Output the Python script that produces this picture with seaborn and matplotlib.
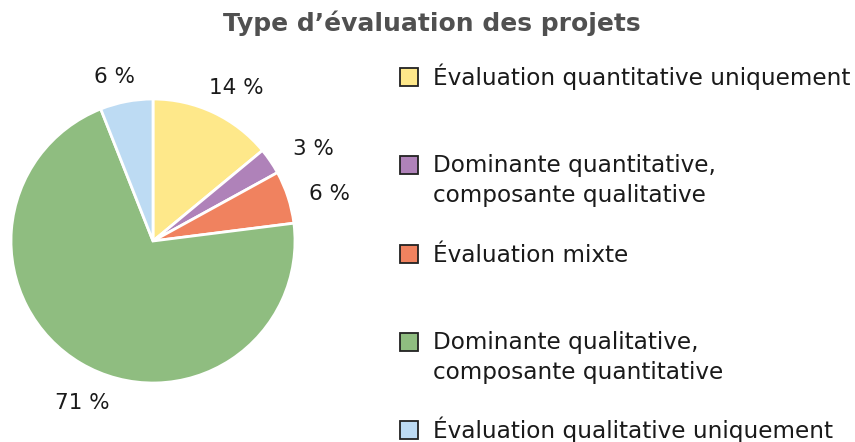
import numpy as np
import matplotlib
matplotlib.use("Agg")
import matplotlib.pyplot as plt
from matplotlib.patches import Rectangle
import seaborn as sns

sns.set_theme(style="white")
plt.rcParams['font.family'] = ['DejaVu Sans']

# data
categories = [
    "Évaluation quantitative uniquement",
    "Dominante quantitative,\ncomposante qualitative",
    "Évaluation mixte",
    "Dominante qualitative,\ncomposante quantitative",
    "Évaluation qualitative uniquement",
]
shares = [14, 3, 6, 71, 6]
colors = ["#FEE88A", "#AF82B9", "#F0825F", "#8FBD80", "#BDDBF3"]

W, H = 855, 442
fig = plt.figure(figsize=(W / 100, H / 100), dpi=100)

# pie centre (153, 241) px, radius 142 px
cx, cy, r = 153, 241, 142
ax = fig.add_axes([(cx - r) / W, 1 - (cy + r) / H, 2 * r / W, 2 * r / H])
wedges, texts, autotexts = ax.pie(
    shares, colors=colors, startangle=90, counterclock=False,
    autopct=lambda p: f"{p:.0f} %", pctdistance=1.25,
    wedgeprops=dict(edgecolor="white", linewidth=2),
    textprops=dict(fontsize=15.5, color="#1a1a1a"),
)
# small hand nudges of the labels (pixels, right / down)
nudges = [(8, 8), (14, 8), (8, 8), (20, 9), (-5, 10)]
for t, (dx, dy) in zip(autotexts, nudges):
    x, y = t.get_position()
    t.set_position((x + dx / r, y - dy / r))
ax.set_xlim(-1, 1)
ax.set_ylim(-1, 1)
ax.set_aspect("equal")

fig.text(432 / W, 1 - 23 / H, "Type d’évaluation des projets", ha="center", va="center",
         fontsize=18, fontweight="bold", color="#505050")

# legend, drawn by hand so the entries keep an even pitch
sq = 18
for i, (lab, col) in enumerate(zip(categories, colors)):
    yc = 77 + i * 88.25
    fig.add_artist(Rectangle((400 / W, 1 - (yc + sq / 2) / H), sq / W, sq / H,
                             transform=fig.transFigure, facecolor=col,
                             edgecolor="#222222", linewidth=1.3))
    # baseline of the last line; first line sits level with the square
    yb = yc + 8 + 29 * lab.count("\n")
    fig.text(433 / W, 1 - yb / H, lab, ha="left", va="baseline",
             fontsize=16.7, color="#1a1a1a", linespacing=1.4)

fig.savefig("out.png", dpi=100)
